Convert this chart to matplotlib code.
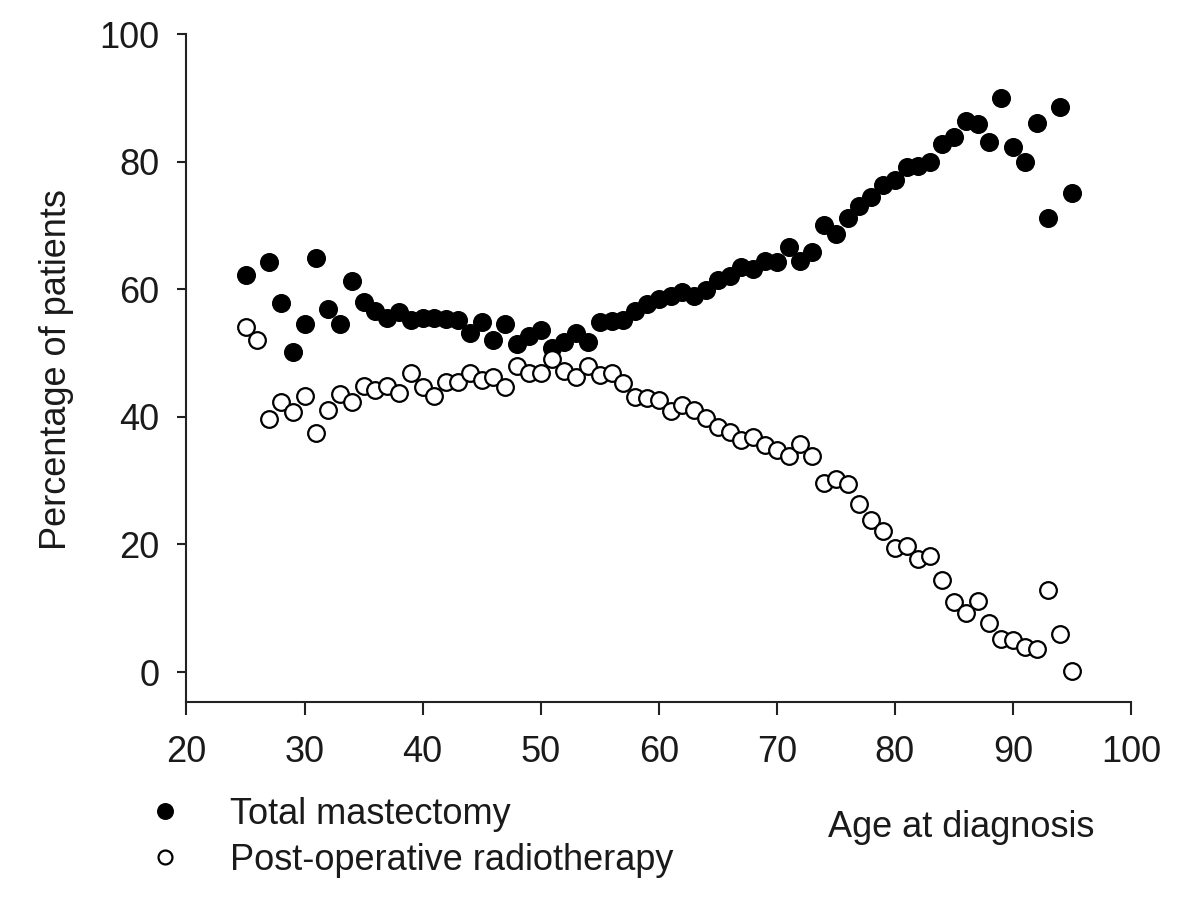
import numpy as np
import matplotlib
matplotlib.use("Agg")
import matplotlib.pyplot as plt
from matplotlib.lines import Line2D

plt.rcParams['font.family'] = ['Liberation Sans', 'DejaVu Sans']

ages = list(range(25, 96))

total_mastectomy = [
    62.3, np.nan, 64.2, 57.9, 50.2, 54.6, 64.9, 56.9, 54.6, 61.3,   # 25-34
    58.0, 56.6, 55.5, 56.5, 55.1, 55.5, 55.5, 55.3, 55.2, 53.2,     # 35-44
    54.9, 52.1, 54.5, 51.4, 52.6, 53.6, 50.8, 51.8, 53.2, 51.8,     # 45-54
    54.9, 55.0, 55.1, 56.6, 57.7, 58.4, 58.9, 59.6, 58.9, 59.9,     # 55-64
    61.5, 62.0, 63.5, 63.1, 64.5, 64.2, 66.6, 64.4, 65.9, 70.0,     # 65-74
    68.6, 71.2, 73.0, 74.4, 76.4, 77.1, 79.1, 79.3, 80.0, 82.7,     # 75-84
    83.9, 86.4, 85.9, 83.1, 90.0, 82.3, 80.0, 86.1, 71.1, 88.5,     # 85-94
    75.1,                                                           # 95
]

radiotherapy = [
    54.1, 52.0, 39.7, 42.4, 40.7, 43.2, 37.4, 41.1, 43.6, 42.4,     # 25-34
    44.9, 44.2, 44.9, 43.8, 46.8, 44.6, 43.2, 45.5, 45.5, 46.9,     # 35-44
    45.7, 46.3, 44.6, 47.9, 46.8, 46.8, 49.0, 47.2, 46.2, 47.9,     # 45-54
    46.6, 46.9, 45.3, 43.1, 42.9, 42.7, 40.9, 41.8, 41.1, 39.8,     # 55-64
    38.4, 37.6, 36.4, 36.8, 35.6, 34.8, 33.9, 35.7, 33.8, 29.7,     # 65-74
    30.3, 29.4, 26.3, 23.8, 22.1, 19.4, 19.7, 17.7, 18.2, 14.5,     # 75-84
    11.0, 9.3, 11.1, 7.7, 5.1, 5.0, 3.9, 3.6, 12.9, 6.0,            # 85-94
    0.2,                                                            # 95
]

series_labels = ["Total mastectomy", "Post-operative radiotherapy"]
x_ticks = [20, 30, 40, 50, 60, 70, 80, 90, 100]
y_ticks = [0, 20, 40, 60, 80, 100]

TEXT = '#1a1a1a'
FS = 26

fig = plt.figure(figsize=(12, 9), dpi=100)
ax = fig.add_axes([0.1554, 0.22, 0.7871, 0.7422])

ax.plot(ages, total_mastectomy, linestyle='none', marker='o', markersize=12.5,
        markerfacecolor='black', markeredgecolor='black', markeredgewidth=1.2, zorder=3)
ax.plot(ages, radiotherapy, linestyle='none', marker='o', markersize=12,
        markerfacecolor='white', markeredgecolor='black', markeredgewidth=1.6, zorder=4)

ax.set_xlim(20, 100)
ax.set_ylim(-4.7, 100)
ax.set_xticks(x_ticks)
ax.set_yticks(y_ticks)

for s in ['top', 'right']:
    ax.spines[s].set_visible(False)
for s in ['left', 'bottom']:
    ax.spines[s].set_linewidth(1.5)
    ax.spines[s].set_color('#222222')

ax.tick_params(axis='x', direction='out', length=9.5, width=1.5, pad=14,
               labelsize=FS, colors='#222222', labelcolor=TEXT)
ax.tick_params(axis='y', direction='out', length=6.5, width=1.5, pad=13,
               labelsize=FS, colors='#222222', labelcolor=TEXT)

fig.text(57 / 1200, 1 - 370 / 900, "Percentage of patients", rotation=90,
         ha='center', va='center', fontsize=FS, color=TEXT)

fig.text(828 / 1200, 1 - 836.7 / 900, "Age at diagnosis", ha='left',
         va='baseline', fontsize=FS, color=TEXT)

handles = [
    Line2D([], [], linestyle='none', marker='o', markersize=11,
           markerfacecolor='black', markeredgecolor='black', markeredgewidth=1.2),
    Line2D([], [], linestyle='none', marker='o', markersize=10,
           markerfacecolor='white', markeredgecolor='black', markeredgewidth=1.6),
]
leg = fig.legend(handles, series_labels, loc='upper left',
                 bbox_to_anchor=(146.7 / 1200, 1 - 797 / 900),
                 frameon=False, borderpad=0, borderaxespad=0,
                 handlelength=1.0, handletextpad=1.3, labelspacing=0.3,
                 fontsize=FS)
for t in leg.get_texts():
    t.set_color(TEXT)

fig.savefig("out.png", dpi=100)
